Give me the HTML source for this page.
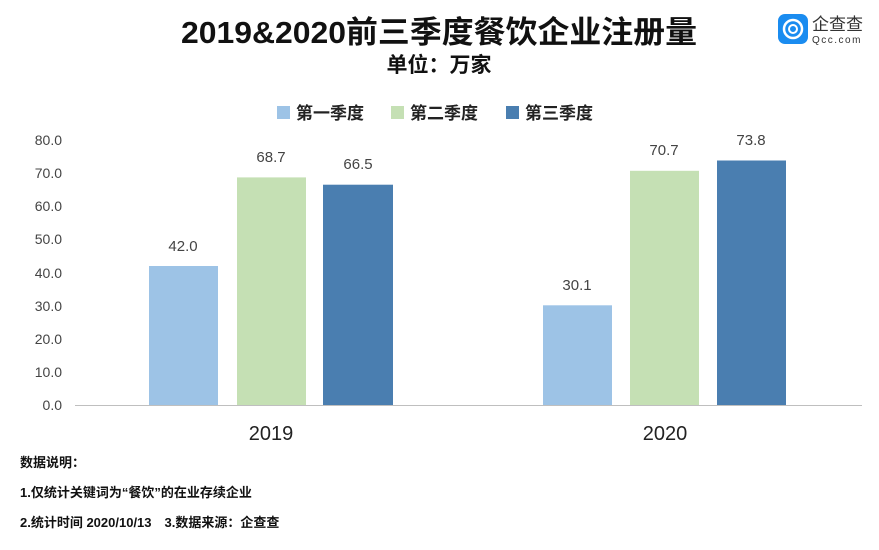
<!DOCTYPE html>
<html><head><meta charset="utf-8"><style>
body{margin:0;background:#fff;}
svg{display:block;font-family:"Liberation Sans","Noto Sans CJK SC",sans-serif;}
</style></head><body>
<svg width="879" height="550" viewBox="0 0 879 550">
<rect width="879" height="550" fill="#fff"/>
<text x="439" y="43" text-anchor="middle" font-size="31" font-weight="bold" fill="#111" textLength="516" lengthAdjust="spacingAndGlyphs">2019&amp;2020前三季度餐饮企业注册量</text>
<text x="439" y="72" text-anchor="middle" font-size="21" font-weight="bold" fill="#111">单位：万家</text>
<rect x="778" y="14" width="30" height="30" rx="7" fill="#1a8cf0"/>
<circle cx="793" cy="29" r="9" fill="none" stroke="#fff" stroke-width="2.5"/>
<circle cx="793" cy="29" r="4" fill="none" stroke="#fff" stroke-width="2"/>
<text x="812" y="30" font-size="17" fill="#333">企查查</text>
<text x="812" y="43" font-size="10" fill="#333" letter-spacing="1.5">Qcc.com</text>
<rect x="277" y="106" width="13" height="13" fill="#9DC3E6"/>
<text x="296" y="119" font-size="17" font-weight="bold" fill="#222">第一季度</text>
<rect x="391" y="106" width="13" height="13" fill="#C5E0B4"/>
<text x="410" y="119" font-size="17" font-weight="bold" fill="#222">第二季度</text>
<rect x="506" y="106" width="13" height="13" fill="#4A7EB0"/>
<text x="525" y="119" font-size="17" font-weight="bold" fill="#222">第三季度</text>
<g font-size="14" fill="#444" text-anchor="end">
<text x="62" y="410">0.0</text><text x="62" y="377">10.0</text><text x="62" y="344">20.0</text><text x="62" y="311">30.0</text><text x="62" y="278">40.0</text><text x="62" y="244">50.0</text><text x="62" y="211">60.0</text><text x="62" y="178">70.0</text><text x="62" y="145">80.0</text>
</g>
<line x1="75" y1="405.5" x2="862" y2="405.5" stroke="#bfbfbf" stroke-width="1"/>
<rect x="149" y="266" width="69" height="139" fill="#9DC3E6"/>
<rect x="237" y="177.4" width="69" height="227.6" fill="#C5E0B4"/>
<rect x="323" y="184.7" width="70" height="220.3" fill="#4A7EB0"/>
<rect x="543" y="305.3" width="69" height="99.7" fill="#9DC3E6"/>
<rect x="630" y="170.8" width="69" height="234.2" fill="#C5E0B4"/>
<rect x="717" y="160.5" width="69" height="244.5" fill="#4A7EB0"/>
<g font-size="15" fill="#444" text-anchor="middle">
<text x="183" y="251">42.0</text><text x="271" y="162">68.7</text><text x="358" y="169">66.5</text>
<text x="577" y="290">30.1</text><text x="664" y="155">70.7</text><text x="751" y="145">73.8</text>
</g>
<text x="271" y="440" text-anchor="middle" font-size="20" fill="#222">2019</text>
<text x="665" y="440" text-anchor="middle" font-size="20" fill="#222">2020</text>
<g font-size="13" font-weight="bold" fill="#111">
<text x="20" y="467">数据说明：</text>
<text x="20" y="497">1.仅统计关键词为“餐饮”的在业存续企业</text>
<text x="20" y="527">2.统计时间 2020/10/13　3.数据来源：企查查</text>
</g>
</svg>
</body></html>
